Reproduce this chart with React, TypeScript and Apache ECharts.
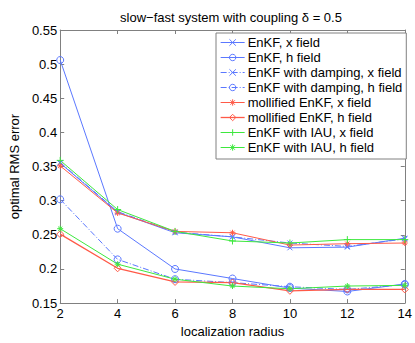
import React, { useEffect, useRef } from "react";
import * as echarts from "echarts";

const radius = [2, 4, 6, 8, 10, 12, 14];
const enkfX = [0.355, 0.283, 0.253, 0.247, 0.231, 0.232, 0.245];
const enkfH = [0.506, 0.259, 0.2, 0.186, 0.172, 0.167, 0.178];
const dampX = [0.356, 0.284, 0.254, 0.247, 0.238, 0.233, 0.244];
const dampH = [0.302, 0.214, 0.185, 0.18, 0.174, 0.17, 0.177];
const mollX = [0.351, 0.282, 0.255, 0.253, 0.235, 0.237, 0.238];
const mollH = [0.251, 0.201, 0.181, 0.18, 0.168, 0.17, 0.17];
const iauX = [0.359, 0.287, 0.255, 0.241, 0.238, 0.243, 0.243];
const iauH = [0.259, 0.207, 0.185, 0.175, 0.171, 0.175, 0.176];

const BLUE = "#5b78ff";
const RED = "#ff5a48";
const GREEN = "#3ee83e";

const X_SYM = "path://M0,0L10,10M10,0L0,10";
const PLUS_SYM = "path://M5,0L5,10M0,5L10,5";
const STAR_SYM = "path://M5,0L5,10M0,5L10,5M1.5,1.5L8.5,8.5M8.5,1.5L1.5,8.5";
const DIAMOND_SYM = "path://M5,0L10,5L5,10L0,5Z";
const DASH = [6, 2, 1, 2];

export default function App() {
  const ref = useRef<HTMLDivElement>(null);
  useEffect(() => {
    if (!ref.current) return;
    const chart = echarts.init(ref.current, null, { renderer: "svg" });
    const defs = [
      { name: "EnKF, x field", data: enkfX, color: BLUE, symbol: X_SYM, size: 5, dashed: false, width: 1 },
      { name: "EnKF, h field", data: enkfH, color: BLUE, symbol: "circle", size: 7, dashed: false, width: 1 },
      { name: "EnKF with damping, x field", data: dampX, color: BLUE, symbol: X_SYM, size: 5, dashed: true, width: 1 },
      { name: "EnKF with damping, h field", data: dampH, color: BLUE, symbol: "circle", size: 7, dashed: true, width: 1 },
      { name: "mollified EnKF, x field", data: mollX, color: RED, symbol: STAR_SYM, size: 6, dashed: false, width: 1 },
      { name: "mollified EnKF, h field", data: mollH, color: RED, symbol: DIAMOND_SYM, size: 7, dashed: false, width: 1.3 },
      { name: "EnKF with IAU, x field", data: iauX, color: GREEN, symbol: PLUS_SYM, size: 7, dashed: false, width: 1 },
      { name: "EnKF with IAU, h field", data: iauH, color: GREEN, symbol: STAR_SYM, size: 6, dashed: false, width: 1 },
    ];
    const font = "Liberation Sans";
    chart.setOption({
      animation: false,
      title: {
        text: "slow\u2212fast system with coupling \u03b4 = 0.5",
        left: 226,
        textAlign: "center",
        top: 6,
        textStyle: { fontSize: 13, fontWeight: "normal", color: "#000", fontFamily: font },
      },
      grid: { left: 47, right: 10, top: 30, bottom: 33 },
      legend: {
        orient: "vertical",
        left: 216,
        top: 33,
        itemWidth: 24,
        itemHeight: 8,
        itemGap: 0,
        padding: [2, 4, 4, 4],
        borderColor: "#808080",
        borderWidth: 1,
        backgroundColor: "#fff",
        itemStyle: { color: "rgba(0,0,0,0)", borderWidth: 1 },
        lineStyle: { width: 1 },
        textStyle: { fontSize: 13, color: "#000", fontFamily: font, padding: [0, 0, 0, -2], lineHeight: 15 },
        data: defs.map((d) => ({
          name: d.name,
          itemStyle: { color: "rgba(0,0,0,0)", borderColor: d.color, borderWidth: 1 },
          lineStyle: { color: d.color, width: d.width, type: d.dashed ? DASH : "solid" },
        })),
      },
      xAxis: [
        {
          type: "value",
          min: 2,
          max: 14,
          interval: 2,
          name: "localization radius",
          nameLocation: "middle",
          nameGap: 18,
          nameTextStyle: { fontSize: 13, color: "#000", fontFamily: font },
          axisLine: { lineStyle: { color: "#808080" } },
          axisTick: { inside: true, length: 4, lineStyle: { color: "#808080" } },
          axisLabel: { fontSize: 13, color: "#000", fontFamily: font, margin: 4 },
          splitLine: { show: false },
        },
        {
          type: "value",
          min: 2,
          max: 14,
          interval: 2,
          position: "top",
          axisLine: { lineStyle: { color: "#808080" } },
          axisTick: { inside: true, length: 4, lineStyle: { color: "#808080" } },
          axisLabel: { show: false },
          splitLine: { show: false },
        },
      ],
      yAxis: [
        {
          type: "value",
          min: 0.15,
          max: 0.55,
          interval: 0.05,
          name: "optimal RMS error",
          nameLocation: "middle",
          nameGap: 32,
          nameTextStyle: { fontSize: 13, color: "#000", fontFamily: font },
          axisLine: { show: true, lineStyle: { color: "#808080" } },
          axisTick: { show: true, inside: true, length: 4, lineStyle: { color: "#808080" } },
          axisLabel: { fontSize: 13, color: "#000", fontFamily: font, margin: 3 },
          splitLine: { show: false },
        },
        {
          type: "value",
          min: 0.15,
          max: 0.55,
          interval: 0.05,
          position: "right",
          axisLine: { show: true, lineStyle: { color: "#808080" } },
          axisTick: { show: true, inside: true, length: 4, lineStyle: { color: "#808080" } },
          axisLabel: { show: false },
          splitLine: { show: false },
        },
      ],
      series: defs.map((d) => ({
        name: d.name,
        type: "line",
        data: radius.map((r, i) => [r, d.data[i]]),
        symbol: d.symbol,
        symbolSize: d.size,
        showSymbol: true,
        lineStyle: { color: d.color, width: d.width, type: d.dashed ? DASH : "solid" },
        itemStyle: { color: "rgba(0,0,0,0)", borderColor: d.color, borderWidth: 1 },
        emphasis: { disabled: true },
      })),
    });
    return () => chart.dispose();
  }, []);
  return (
    <div
      ref={ref}
      style={{ position: "fixed", left: 0, top: 0, width: 415, height: 343, background: "#fff" }}
    />
  );
}
